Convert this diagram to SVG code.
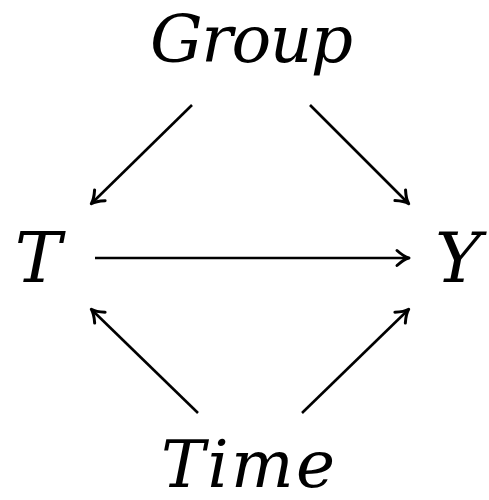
<svg xmlns="http://www.w3.org/2000/svg" width="489" height="500" viewBox="0 0 489 500">
<style>
.lbl{font-family:'DejaVu Serif',serif;font-style:italic;font-size:66px;fill:#000}
.big{font-size:70px}
.edge{stroke:#000;stroke-width:2.6;fill:none;marker-end:url(#ah)}
</style>
<defs>
<marker id="ah" viewBox="-12 -8 16 16" refX="0" refY="0" markerWidth="16" markerHeight="16" markerUnits="userSpaceOnUse" orient="auto" overflow="visible">
<path d="M-11,-7.5 Q-4,-1.2 1,0 Q-4,1.2 -11,7.5" fill="none" stroke="#000" stroke-width="3" stroke-linecap="round" stroke-linejoin="round"/>
</marker>
</defs>
<rect width="489" height="500" fill="#fff"/>
<g id="connectors">
<line class="edge" x1="192" y1="105" x2="92" y2="203"/>
<line class="edge" x1="310" y1="105" x2="408" y2="203"/>
<line class="edge" x1="95" y1="258" x2="408" y2="258"/>
<line class="edge" x1="198" y1="413" x2="92" y2="310"/>
<line class="edge" x1="302" y1="413" x2="408" y2="310"/>
</g>
<g id="group"><text class="lbl" x="150" y="62" textLength="203" lengthAdjust="spacing">Group</text></g>
<g id="t"><text class="lbl big" x="38" y="282" text-anchor="middle">T</text></g>
<g id="y"><text class="lbl big" x="458" y="282" text-anchor="middle">Y</text></g>
<g id="time"><text class="lbl" x="161" y="487" textLength="174" lengthAdjust="spacing">Time</text></g>
</svg>
